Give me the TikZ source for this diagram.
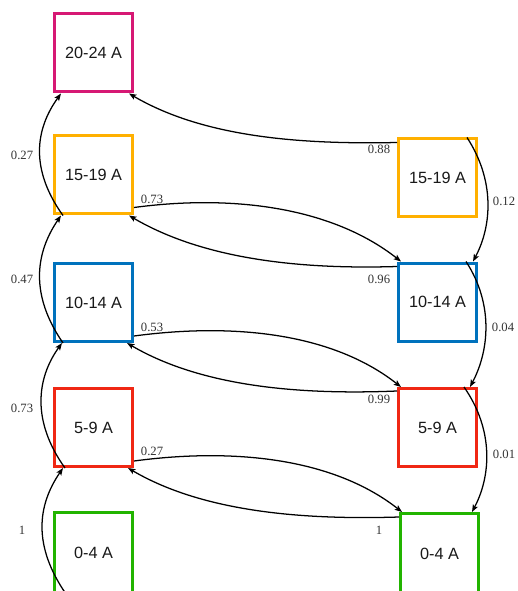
\documentclass[tikz,border=0pt]{standalone}
\usepackage{fontspec}
\setmainfont{Liberation Sans}
\newfontfamily\lblfont{Liberation Serif}
\usetikzlibrary{arrows.meta,calc}
\definecolor{cmag}{RGB}{214,24,116}
\definecolor{corange}{RGB}{255,176,0}
\definecolor{cblue}{RGB}{0,114,189}
\definecolor{cred}{RGB}{240,40,20}
\definecolor{cgreen}{RGB}{34,180,0}
\begin{document}
\begin{tikzpicture}[x=0.75pt,y=-0.75pt,
 box/.style={draw,line width=2.25pt,minimum width=58.5pt,minimum height=58.5pt,inner sep=0pt,
   font=\fontsize{12.2}{14}\selectfont,text=black!90},
 tallbox/.style={box,minimum height=66pt,text depth=5.6pt},
 arr/.style={-{Stealth[length=5.5pt,width=4.2pt,inset=1.2pt]},line width=0.95pt},
 lbl/.style={font=\lblfont\fontsize{9.5}{11}\selectfont,text=black!80,inner sep=0pt}]
\clip (0,0) rectangle (517,591);
\fill[white] (0,0) rectangle (517,591);

\node[box,draw=cmag] (L2024) at (93.5,53) {20-24 A};
\node[box,draw=corange] (L1519) at (93.5,175) {15-19 A};
\node[box,draw=cblue] (L1014) at (93.5,302.5) {10-14 A};
\node[box,draw=cred] (L59) at (93.5,427.5) {5-9 A};
\node[tallbox,draw=cgreen] (L04) at (93.5,556.5) {0-4 A};
\node[box,draw=corange] (R1519) at (437.5,178) {15-19 A};
\node[box,draw=cblue] (R1014) at (437.5,302) {10-14 A};
\node[box,draw=cred] (R59) at (437.5,427.5) {5-9 A};
\node[tallbox,draw=cgreen] (R04) at (439.5,557.5) {0-4 A};

% left upward arcs
\draw[arr] ($(L1519.south west)+(10,0)$) .. controls +(-33,-46) and +(-26,36) .. ($(L2024.south west)+(8,0)$);
\draw[arr] ($(L1014.south west)+(10,0)$) .. controls +(-33,-48) and +(-26,38) .. ($(L1519.south west)+(8,0)$);
\draw[arr] ($(L59.south west)+(12,0)$) .. controls +(-33,-46) and +(-26,36) .. ($(L1014.south west)+(9,0)$);
\draw[arr] ($(L04.south west)+(13,-8)$) .. controls +(-33,-48) and +(-26,38) .. ($(L59.south west)+(10,0)$);

% right downward arcs
\draw[arr] ($(R1519.north east)+(-11,0)$) .. controls +(28,43) and +(19,-36) .. ($(R1014.north east)+(-5,0)$);
\draw[arr] ($(R1014.north east)+(-12,0)$) .. controls +(28,43) and +(19,-36) .. ($(R59.north east)+(-8,0)$);
\draw[arr] ($(R59.north east)+(-14,0)$) .. controls +(30,43) and +(19,-36) .. ($(R04.north east)+(-8,0)$);

% cross connectors
\draw[arr] ($(R1519.north west)+(0,5)$) .. controls +(-96,2) and +(75,44) .. ($(L2024.south east)+(-5,0)$);
\draw[arr] ($(L1519.south east)+(0,-8)$) .. controls +(97,-13) and +(-70,-55) .. ($(R1014.north west)+(4,0)$);
\draw[arr] ($(R1014.north west)+(0,5)$) .. controls +(-96,3) and +(75,44) .. ($(L1519.south east)+(-5,0)$);
\draw[arr] ($(L1014.south east)+(0,-7)$) .. controls +(97,-13) and +(-70,-55) .. ($(R59.north west)+(4,0)$);
\draw[arr] ($(R59.north west)+(0,4)$) .. controls +(-96,4) and +(75,44) .. ($(L1014.south east)+(-7,0)$);
\draw[arr] ($(L59.south east)+(0,-7)$) .. controls +(97,-13) and +(-70,-55) .. ($(R04.north west)+(3,0)$);
\draw[arr] ($(R04.north west)+(0,5)$) .. controls +(-96,3) and +(75,44) .. ($(L59.south east)+(-6,0)$);

% labels
\node[lbl] (l1) at (22,155) {0.27};
\node[lbl] (l2) at (152,199) {0.73};
\node[lbl] (l3) at (379,149) {0.88};
\node[lbl] (l4) at (504,201) {0.12};
\node[lbl] (l5) at (379,279) {0.96};
\node[lbl] (l6) at (22,279) {0.47};
\node[lbl] (l7) at (152,327) {0.53};
\node[lbl] (l8) at (22,408) {0.73};
\node[lbl] (l9) at (503,327) {0.04};
\node[lbl] (l10) at (379,399) {0.99};
\node[lbl] (l11) at (504,454) {0.01};
\node[lbl] (l12) at (152,451) {0.27};
\node[lbl] (l13) at (22,530) {1};
\node[lbl] (l14) at (379,530) {1};
\end{tikzpicture}
\end{document}
